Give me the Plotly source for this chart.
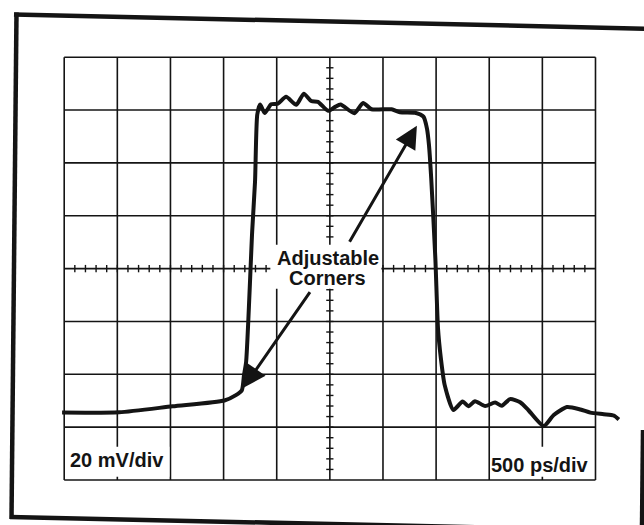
import numpy as np
import plotly.graph_objects as go

# Pulse response captured on the scope: time in ns, amplitude in mV above the bottom graticule line
t_ns = [-0.02, 0.518, 1.02, 1.508, 1.616, 1.672, 1.692, 1.712, 1.769, 1.796, 1.817, 1.844,
        1.887, 1.948, 2.011, 2.088, 2.184, 2.255, 2.325, 2.388, 2.484, 2.546, 2.601, 2.730,
        2.813, 2.892, 3.081, 3.16, 3.302, 3.381, 3.414, 3.433, 3.454, 3.493, 3.518, 3.545,
        3.581, 3.663, 3.749, 3.804, 3.866, 3.962, 4.055, 4.118, 4.196, 4.291, 4.369, 4.513,
        4.607, 4.731, 4.858, 4.952, 5.078, 5.172, 5.22]
v_mV = [25.5, 25.6, 27.9, 30.1, 32.1, 34.0, 39.7, 44.7, 94.0, 113.0, 138.3, 142.1,
        138.9, 142.2, 142.4, 145.0, 142.0, 146.2, 143.4, 143.1, 139.7, 141.1, 142.1, 138.8,
        142.7, 140.3, 140.3, 139.2, 139.0, 137.5, 133.0, 126.7, 114.1, 83.8, 57.3, 46.0,
        35.9, 26.5, 29.7, 27.9, 29.8, 28.0, 29.3, 28.1, 30.6, 29.4, 26.4, 20.4,
        24.6, 27.6, 26.7, 25.5, 24.9, 24.4, 22.9]

# Graticule: 10 x 8 divisions, 500 ps/div and 20 mV/div
x_div_ns = [0.0, 0.5, 1.0, 1.5, 2.0, 2.5, 3.0, 3.5, 4.0, 4.5, 5.0]
y_div_mV = [0, 20, 40, 60, 80, 100, 120, 140, 160]

# Corner callouts: (tip time, tip mV, tail time, tail mV)
callouts = [(1.687, 34.9, 2.3225, 71.7),
            (3.319, 134.1, 2.6775, 89.6)]

callout_lines = ["Adjustable", "Corners"]
scale_labels = ["20 mV/div", "500 ps/div"]

W, H = 644, 525
INK = "#141414"
FONT = "Liberation Sans, Arial, Helvetica, sans-serif"

x_lo, x_hi = -0.6042, 5.4565
y_lo, y_hi = -17.03, 181.65

fig = go.Figure()

shapes = []
# major graticule lines
for xv in x_div_ns:
    shapes.append(dict(type="line", xref="x", yref="y", x0=xv, x1=xv,
                       y0=y_div_mV[0], y1=y_div_mV[-1],
                       line=dict(color=INK, width=1.6), layer="below"))
for yv in y_div_mV:
    shapes.append(dict(type="line", xref="x", yref="y", x0=x_div_ns[0], x1=x_div_ns[-1],
                       y0=yv, y1=yv, line=dict(color=INK, width=1.6), layer="below"))

# minor ticks along the centre axes
x_mid = x_div_ns[len(x_div_ns) // 2]
y_mid = y_div_mV[len(y_div_mV) // 2]
tx, ty = [], []
for xv in np.arange(0.1, 5.0, 0.1):
    tx += [xv, xv, None]
    ty += [y_mid - 1.4, y_mid + 1.4, None]
for yv in np.arange(4, 160, 4):
    tx += [x_mid - 0.034, x_mid + 0.034, None]
    ty += [yv, yv, None]
fig.add_trace(go.Scatter(x=tx, y=ty, mode="lines", line=dict(color=INK, width=1.4),
                         hoverinfo="skip", showlegend=False))

# white boxes behind the labels (kept above the graticule and its ticks)
for bx0, bx1, by0, by1 in [(1.94, 2.985, 72.4, 89.0),
                           (0.012, 0.99, 1.2, 12.6),
                           (4.012, 4.985, 1.2, 12.6)]:
    shapes.append(dict(type="rect", xref="x", yref="y", x0=bx0, x1=bx1, y0=by0, y1=by1,
                       fillcolor="white", line=dict(width=0), layer="above"))

# outer bezel of the photograph (pixel positions converted to paper fractions)
def px(x, y):
    return x / W, 1 - y / H

for (xa, ya), (xb, yb) in [((14, 14.4), (646, 28.7)),
                           ((16.5, 12.5), (11.5, 519)),
                           ((10, 517), (646, 531)),
                           ((643, 430), (642, 527))]:
    a, b = px(xa, ya), px(xb, yb)
    shapes.append(dict(type="line", xref="paper", yref="paper",
                       x0=a[0], y0=a[1], x1=b[0], y1=b[1],
                       line=dict(color=INK, width=4.5)))

# the waveform
fig.add_trace(go.Scatter(x=t_ns, y=v_mV, mode="lines",
                         line=dict(color=INK, width=4, shape="spline", smoothing=0.6),
                         hoverinfo="skip", showlegend=False))

annotations = []
for tip_x, tip_y, tail_x, tail_y in callouts:
    annotations.append(dict(x=tip_x, y=tip_y, ax=tail_x, ay=tail_y, xref="x", yref="y",
                            axref="x", ayref="y", text="", showarrow=True,
                            arrowhead=2, arrowsize=1.5, arrowwidth=3, arrowcolor=INK))

annotations.append(dict(x=2.487, y=83.9, xref="x", yref="y", text="<b>%s</b>" % callout_lines[0],
                        showarrow=False, font=dict(family=FONT, size=20, color=INK)))
annotations.append(dict(x=2.478, y=76.3, xref="x", yref="y", text="<b>%s</b>" % callout_lines[1],
                        showarrow=False, font=dict(family=FONT, size=20, color=INK)))
annotations.append(dict(x=0.04, y=7.4, xref="x", yref="y", text="<b>%s</b>" % scale_labels[0],
                        xanchor="left", showarrow=False,
                        font=dict(family=FONT, size=20, color=INK)))
annotations.append(dict(x=4.962, y=5.8, xref="x", yref="y", text="<b>%s</b>" % scale_labels[1],
                        xanchor="right", showarrow=False,
                        font=dict(family=FONT, size=20, color=INK)))

fig.update_layout(
    width=W, height=H,
    margin=dict(l=0, r=0, t=0, b=0),
    paper_bgcolor="white", plot_bgcolor="white",
    xaxis=dict(range=[x_lo, x_hi], visible=False, fixedrange=True),
    yaxis=dict(range=[y_lo, y_hi], visible=False, fixedrange=True),
    shapes=shapes,
    annotations=annotations,
    showlegend=False,
)

fig.write_html("out.html", config={"displayModeBar": False})
